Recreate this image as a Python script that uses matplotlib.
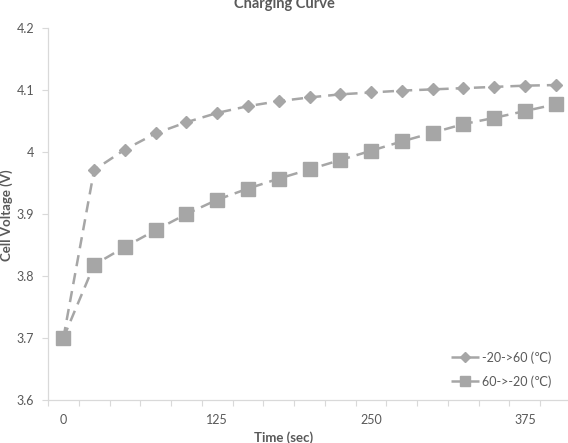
import matplotlib.pyplot as plt
import numpy as np

# ---------------------------------
# Data
# ---------------------------------
times = [0, 25, 50, 75, 100, 125, 150, 175, 200, 225, 250, 275, 300, 325, 350, 375, 400]
heat_up = [3.700, 3.971, 4.004, 4.030, 4.048, 4.063, 4.074, 4.082, 4.088, 4.093, 4.096,
           4.099, 4.101, 4.103, 4.105, 4.107, 4.108]
cool_down = [3.700, 3.818, 3.847, 3.874, 3.900, 3.923, 3.941, 3.957, 3.972, 3.987, 4.002,
             4.017, 4.031, 4.045, 4.055, 4.066, 4.077]
series_names = ["-20->60 (\u2103)", "60->-20 (\u2103)"]
y_ticks = [3.6, 3.7, 3.8, 3.9, 4.0, 4.1, 4.2]
y_tick_labels = ["3.6", "3.7", "3.8", "3.9", "4", "4.1", "4.2"]

plt.rcParams['font.family'] = ['Lato', 'DejaVu Sans']

W, H = 568, 443
fig = plt.figure(figsize=(W / 100, H / 100), dpi=100)
ax = fig.add_axes([48 / W, (H - 400) / H, 523 / W, 372 / H])

gray = '#a6a6a6'
txt = '#595959'
axis_col = '#d9d9d9'

# category axis, like the spreadsheet line chart
pos = np.arange(len(times))
ax.plot(pos, heat_up, ls=(0, (4.5, 2.8)), lw=1.8, color=gray,
        marker='D', ms=6.5, mec=gray, mfc=gray, label=series_names[0])
ax.plot(pos, cool_down, ls=(0, (4.5, 2.8)), lw=1.8, color=gray,
        marker='s', ms=10, mec=gray, mfc=gray, label=series_names[1])

ax.set_xlim(-0.5, len(times) - 0.5)
ax.set_ylim(3.6, 4.2)
ax.set_yticks(y_ticks)
ax.set_yticklabels(y_tick_labels)

label_idx = pos[::5]
ax.set_xticks(label_idx)
ax.set_xticklabels([str(times[i]) for i in label_idx])
ax.set_xticks(np.arange(-0.5, len(times), 1.0), minor=True)
ax.tick_params(axis='x', which='major', length=0, pad=10, labelsize=9, labelcolor=txt)
ax.tick_params(axis='x', which='minor', length=4, width=0.8, color=axis_col, direction='out')
ax.tick_params(axis='y', length=4, width=0.8, color=axis_col, pad=6, labelsize=9, labelcolor=txt)

for s in ['top', 'right']:
    ax.spines[s].set_visible(False)
for s in ['left', 'bottom']:
    ax.spines[s].set_color(axis_col)
    ax.spines[s].set_linewidth(0.9)

fig.text(0.5, 1 - 8 / H, "Charging Curve", ha='center', va='baseline',
         fontsize=10.5, fontweight='bold', color=txt)
fig.text(0.5, 1 - 431 / H, "Time (sec)", ha='center', va='top',
         fontsize=9.5, fontweight='bold', color=txt)
fig.text(7 / W, 1 - 215 / H, "Cell Voltage (V)", ha='center', va='center',
         rotation=90, fontsize=9.5, fontweight='bold', color=txt)

leg = ax.legend(loc='upper left', bbox_to_anchor=(440 / W, 1 - 340 / H),
                bbox_transform=fig.transFigure, frameon=False, fontsize=9,
                handlelength=2.2, handletextpad=0.3, labelspacing=0.9,
                markerscale=0.75, labelcolor=txt)

fig.savefig('out.png', dpi=100)
